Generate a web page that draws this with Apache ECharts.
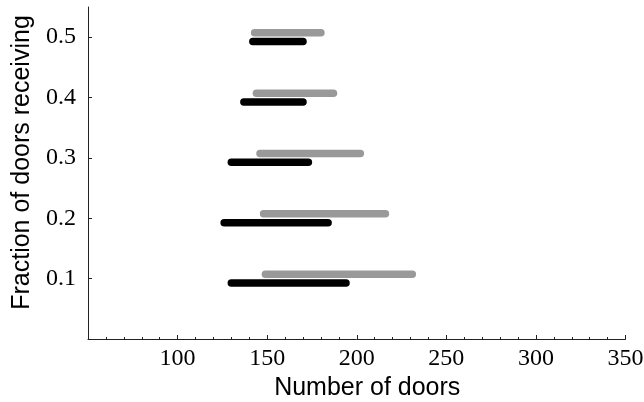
<!DOCTYPE html>
<html>
<head>
<meta charset="utf-8">
<script src="https://cdn.jsdelivr.net/npm/echarts@6/dist/echarts.min.js"></script>
<style>
html,body{margin:0;padding:0;background:#fff;}
#chart{width:644px;height:402px;}
</style>
</head>
<body>
<div id="chart"></div>
<script>
// Data
var fractions   = [0.1, 0.2, 0.3, 0.4, 0.5];
var grayStart   = [149, 148, 146, 144, 143];
var grayEnd     = [231, 216, 202, 187, 180];
var blackStart  = [130, 126, 130, 137, 142];
var blackEnd    = [194, 184, 173, 170, 170];
var xTickLabels = [100, 150, 200, 250, 300, 350];
var yTickLabels = [0.1, 0.2, 0.3, 0.4, 0.5];

function rangeData(starts, ends) {
  return fractions.map(function (f, i) { return [starts[i], ends[i], f]; });
}

function makeRender(offsetPx, color) {
  var w = 7.5;
  return function (params, api) {
    var p1 = api.coord([api.value(0), api.value(2)]);
    var p2 = api.coord([api.value(1), api.value(2)]);
    return {
      type: 'rect',
      shape: { x: p1[0] - w / 2, y: p1[1] + offsetPx - w / 2, width: p2[0] - p1[0] + w, height: w, r: w / 2 },
      style: { fill: color }
    };
  };
}

var chart = echarts.init(document.getElementById('chart'), null, { renderer: 'canvas' });
var axisColor = '#222';
chart.setOption({
  animation: false,
  backgroundColor: '#fff',
  grid: { left: 88, right: 18.5, top: 7, bottom: 63, containLabel: false, outerBoundsMode: 'none' },
  xAxis: {
    type: 'value', min: 50, max: 350, interval: 50,
    name: 'Number of doors', nameLocation: 'middle', nameGap: 37,
    nameTextStyle: { fontFamily: 'Liberation Sans', fontSize: 25, color: '#000', padding: [0, 0, 0, 21] },
    axisLine: { show: true, lineStyle: { color: axisColor, width: 1 } },
    axisTick: { show: true, inside: true, length: 4, customValues: xTickLabels, lineStyle: { color: axisColor } },
    minorTick: { show: true, splitNumber: 5, length: 2, lineStyle: { color: axisColor } },
    axisLabel: { customValues: xTickLabels, margin: 8, fontFamily: 'Liberation Serif', fontSize: 24, color: '#000' },
    splitLine: { show: false }
  },
  yAxis: {
    type: 'value', min: 0, max: 0.55, interval: 0.1,
    name: 'Fraction of doors receiving', nameLocation: 'middle', nameGap: 53, nameRotate: 90,
    nameTextStyle: { fontFamily: 'Liberation Sans', fontSize: 25, color: '#000', padding: [0, 0, 0, 21] },
    axisLine: { show: true, lineStyle: { color: axisColor, width: 1 } },
    axisTick: { show: true, inside: true, length: 4, customValues: yTickLabels, lineStyle: { color: axisColor } },
    axisLabel: { customValues: yTickLabels, margin: 12, fontFamily: 'Liberation Serif', fontSize: 24, color: '#000',
      formatter: function (v) { return v.toFixed(1); } },
    splitLine: { show: false }
  },
  series: [
    { type: 'custom', name: 'gray', renderItem: makeRender(-4.4, '#999999'), encode: { x: [0, 1], y: 2 }, data: rangeData(grayStart, grayEnd) },
    { type: 'custom', name: 'black', renderItem: makeRender(4.4, '#000000'), encode: { x: [0, 1], y: 2 }, data: rangeData(blackStart, blackEnd) }
  ]
});
</script>
</body>
</html>
